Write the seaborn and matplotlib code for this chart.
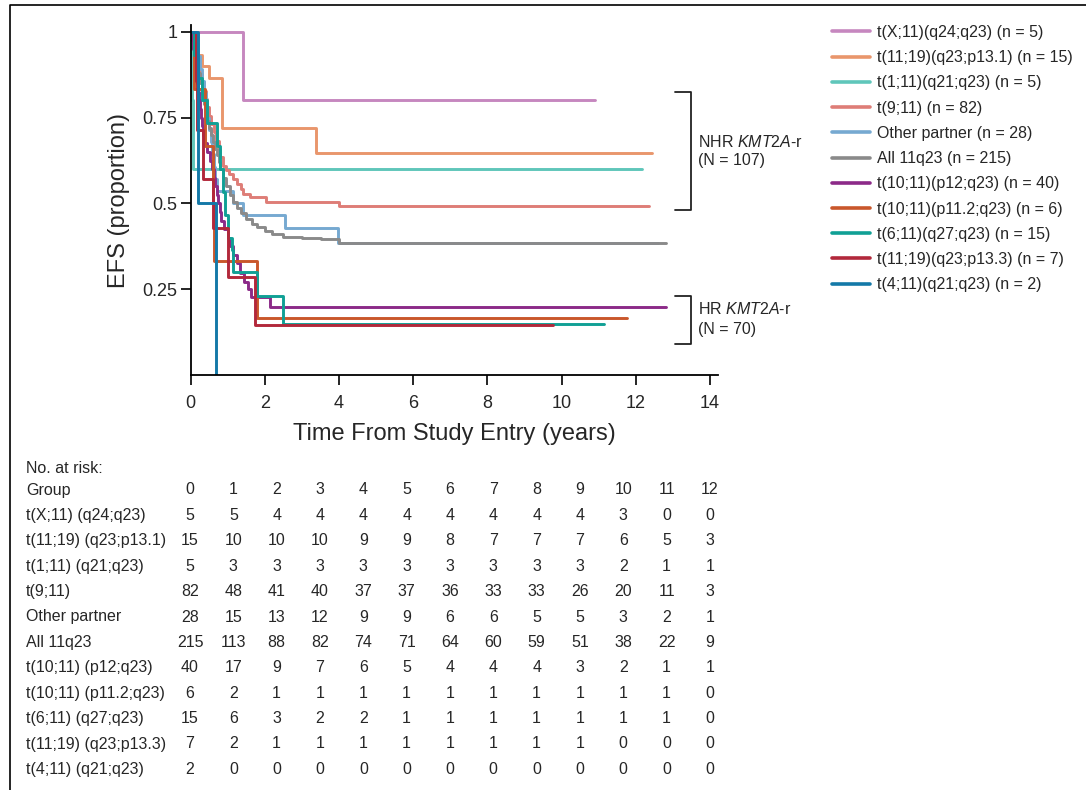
import numpy as np
import pandas as pd
import matplotlib
matplotlib.use('Agg')
import matplotlib.pyplot as plt
from matplotlib.lines import Line2D
import seaborn as sns

# ---- data ----
groups = ["t(X;11)(q24;q23)", "t(11;19)(q23;p13.1)", "t(1;11)(q21;q23)", "t(9;11)",
          "Other partner", "All 11q23", "t(10;11)(p12;q23)", "t(10;11)(p11.2;q23)",
          "t(6;11)(q27;q23)", "t(11;19)(q23;p13.3)", "t(4;11)(q21;q23)"]
group_n = [5, 15, 5, 82, 28, 215, 40, 6, 15, 7, 2]
colors = ["#c687bf", "#e9966c", "#5fc6ba", "#de7d77", "#76a9d1", "#8a8a8a",
          "#8c2a88", "#c9572b", "#10a095", "#b2283b", "#1479a8"]

# step times (years) and survival after each step, plus last follow-up
txq_t = [1.42]
txq_s = [0.80]
txq_end = 10.9
t1119a_t = [0.20, 0.30, 0.50, 0.85, 3.39]
t1119a_s = [0.933, 0.90, 0.867, 0.72, 0.648]
t1119a_end = 12.43
t111_t = [0.04, 0.07]
t111_s = [0.80, 0.60]
t111_end = 12.17
t911_t = [0.05, 0.10, 0.15, 0.20, 0.25, 0.30, 0.35, 0.40, 0.45, 0.50, 0.55, 0.62,
          0.68, 0.75, 0.80, 0.87, 0.95, 1.02, 1.14, 1.25, 1.35, 1.42, 1.60, 2.04, 4.00]
t911_s = [0.976, 0.951, 0.927, 0.902, 0.878, 0.853, 0.829, 0.805, 0.780, 0.756, 0.732, 0.707,
          0.683, 0.659, 0.634, 0.610, 0.598, 0.585, 0.571, 0.557, 0.543, 0.528, 0.518, 0.505, 0.493]
t911_end = 12.36
other_t = [0.08, 0.20, 0.25, 0.30, 0.35, 0.40, 0.45, 0.50, 0.55, 0.58, 0.62, 0.66, 0.72,
           1.15, 1.42, 2.55, 3.97]
other_s = [0.964, 0.929, 0.893, 0.857, 0.821, 0.786, 0.750, 0.714, 0.679, 0.643, 0.607, 0.571, 0.536,
           0.500, 0.466, 0.427, 0.384]
other_end = 12.6
all_t = [0.02, 0.05, 0.10, 0.15, 0.20, 0.25, 0.30, 0.35, 0.40, 0.45, 0.50, 0.55, 0.60, 0.65,
         0.70, 0.75, 0.80, 0.87, 0.95, 1.05, 1.15, 1.25, 1.35, 1.50, 1.65, 1.80, 2.00, 2.20,
         2.50, 3.00, 3.50, 4.00]
all_s = [0.99, 0.97, 0.94, 0.91, 0.88, 0.85, 0.82, 0.79, 0.765, 0.74, 0.72, 0.70, 0.68, 0.66,
         0.64, 0.62, 0.60, 0.575, 0.55, 0.525, 0.505, 0.488, 0.472, 0.455, 0.44, 0.43, 0.42, 0.41,
         0.403, 0.398, 0.395, 0.384]
all_end = 12.8
t1011a_t = [0.03, 0.06, 0.09, 0.12, 0.15, 0.18, 0.20, 0.22, 0.25, 0.27, 0.30, 0.33, 0.36,
            0.45, 0.52, 0.58, 0.62, 0.66, 0.70, 0.74, 0.78, 0.82, 0.90, 1.00, 1.06, 1.15,
            1.25, 1.32, 1.45, 1.55, 1.63, 2.13]
t1011a_s = [0.975, 0.95, 0.925, 0.90, 0.875, 0.85, 0.825, 0.80, 0.775, 0.75, 0.725, 0.70, 0.675,
            0.65, 0.625, 0.60, 0.575, 0.55, 0.525, 0.50, 0.475, 0.45, 0.425, 0.40, 0.375, 0.35,
            0.325, 0.297, 0.27, 0.25, 0.228, 0.197]
t1011a_end = 12.8
t1011b_t = [0.10, 0.38, 0.60, 0.62, 1.78]
t1011b_s = [0.833, 0.667, 0.50, 0.333, 0.167]
t1011b_end = 11.76
t611_t = [0.10, 0.20, 0.30, 0.45, 0.70, 0.80, 0.88, 0.93, 1.00, 1.10, 1.15, 1.78, 2.49]
t611_s = [0.933, 0.867, 0.80, 0.733, 0.667, 0.60, 0.533, 0.467, 0.40, 0.364, 0.30, 0.229, 0.149]
t611_end = 11.15
t1119b_t = [0.14, 0.16, 0.34, 0.60, 1.01, 1.72]
t1119b_s = [0.857, 0.714, 0.571, 0.429, 0.287, 0.146]
t1119b_end = 9.77
t411_t = [0.21, 0.67]
t411_s = [0.50, 0.0]
t411_end = 0.67

curve_t = [txq_t, t1119a_t, t111_t, t911_t, other_t, all_t, t1011a_t, t1011b_t, t611_t, t1119b_t, t411_t]
curve_s = [txq_s, t1119a_s, t111_s, t911_s, other_s, all_s, t1011a_s, t1011b_s, t611_s, t1119b_s, t411_s]
curve_end = [txq_end, t1119a_end, t111_end, t911_end, other_end, all_end, t1011a_end, t1011b_end,
             t611_end, t1119b_end, t411_end]

# numbers at risk
risk_years = list(range(13))
risk_labels = ["t(X;11) (q24;q23)", "t(11;19) (q23;p13.1)", "t(1;11) (q21;q23)", "t(9;11)",
               "Other partner", "All 11q23", "t(10;11) (p12;q23)", "t(10;11) (p11.2;q23)",
               "t(6;11) (q27;q23)", "t(11;19) (q23;p13.3)", "t(4;11) (q21;q23)"]
risk_xq = [5, 5, 4, 4, 4, 4, 4, 4, 4, 4, 3, 0, 0]
risk_1119a = [15, 10, 10, 10, 9, 9, 8, 7, 7, 7, 6, 5, 3]
risk_111 = [5, 3, 3, 3, 3, 3, 3, 3, 3, 3, 2, 1, 1]
risk_911 = [82, 48, 41, 40, 37, 37, 36, 33, 33, 26, 20, 11, 3]
risk_other = [28, 15, 13, 12, 9, 9, 6, 6, 5, 5, 3, 2, 1]
risk_all = [215, 113, 88, 82, 74, 71, 64, 60, 59, 51, 38, 22, 9]
risk_1011a = [40, 17, 9, 7, 6, 5, 4, 4, 4, 3, 2, 1, 1]
risk_1011b = [6, 2, 1, 1, 1, 1, 1, 1, 1, 1, 1, 1, 0]
risk_611 = [15, 6, 3, 2, 2, 1, 1, 1, 1, 1, 1, 1, 0]
risk_1119b = [7, 2, 1, 1, 1, 1, 1, 1, 1, 1, 0, 0, 0]
risk_411 = [2, 0, 0, 0, 0, 0, 0, 0, 0, 0, 0, 0, 0]
risk_rows = [risk_xq, risk_1119a, risk_111, risk_911, risk_other, risk_all, risk_1011a,
             risk_1011b, risk_611, risk_1119b, risk_411]

# ---- long table for seaborn ----
rows = []
for g, ts, ss, te in zip(groups, curve_t, curve_s, curve_end):
    tt = [0.0] + ts
    sv = [1.0] + ss
    if te > ts[-1]:
        tt.append(te)
        sv.append(ss[-1])
    for a, b in zip(tt, sv):
        rows.append({"group": g, "t": a, "S": b})
df = pd.DataFrame(rows)

sns.set_style("white")
plt.rcParams['font.family'] = ['Liberation Sans', 'DejaVu Sans']
plt.rcParams['mathtext.fontset'] = 'custom'
plt.rcParams['mathtext.rm'] = 'Liberation Sans'
plt.rcParams['mathtext.it'] = 'Liberation Sans:italic'

W, H = 1086, 790
fig = plt.figure(figsize=(W / 100, H / 100), dpi=100)
ax = fig.add_axes([190.7 / W, 1 - 375 / H, (717.5 - 190.7) / W, 350 / H])

sns.lineplot(data=df, x="t", y="S", hue="group", hue_order=groups, palette=colors,
             drawstyle="steps-post", estimator=None, sort=False, lw=2.1,
             legend=False, ax=ax)

ax.set_xlim(0, 14.2)
ax.set_ylim(0, 1.02)
ax.set_xticks(range(0, 15, 2))
ax.set_xticklabels([str(v) for v in range(0, 15, 2)], fontsize=13)
ax.set_yticks([0.25, 0.5, 0.75, 1.0])
ax.set_yticklabels(["0.25", "0.5", "0.75", "1"], fontsize=13)
ax.tick_params(direction="out", length=7, width=1.2, color="black", bottom=True, left=True)
ax.tick_params(axis="x", pad=7.5)
ax.tick_params(axis="y", pad=2.5)
for side in ["top", "right"]:
    ax.spines[side].set_visible(False)
for side in ["left", "bottom"]:
    ax.spines[side].set_color("black")
    ax.spines[side].set_linewidth(1.3)
ax.set_xlabel("Time From Study Entry (years)", fontsize=17, labelpad=8)
ax.set_ylabel("EFS (proportion)", fontsize=17, labelpad=9)

# risk-group brackets
ax.plot([13.06, 13.48, 13.48, 13.06], [0.824, 0.824, 0.481, 0.481], color="#222222", lw=1.3, clip_on=False)
ax.plot([13.06, 13.48, 13.48, 13.06], [0.230, 0.230, 0.090, 0.090], color="#222222", lw=1.3, clip_on=False)
ax.text(13.68, 0.680, r"NHR $\mathit{KMT2A}$-r", fontsize=11.5, va="center", clip_on=False)
ax.text(13.68, 0.624, "(N = 107)", fontsize=11.5, va="center", clip_on=False)
ax.text(13.68, 0.192, r"HR $\mathit{KMT2A}$-r", fontsize=11.5, va="center", clip_on=False)
ax.text(13.68, 0.134, "(N = 70)", fontsize=11.5, va="center", clip_on=False)

# legend
handles = [Line2D([], [], color=c, lw=2.6) for c in colors]
labels = [f"{g} (n = {n})" for g, n in zip(groups, group_n)]
fig.legend(handles, labels, loc="upper left", bbox_to_anchor=(832 / W, 1 - 25 / H),
           frameon=False, fontsize=11.5, handlelength=2.38, handletextpad=0.44,
           labelspacing=0.64, borderpad=0, borderaxespad=0)

# numbers at risk table
fs_tab = 11.5
row_y = 490
row_dy = 25.4
col_x0 = 190
col_dx = 43.33
fig.text(26 / W, 1 - 468 / H, "No. at risk:", fontsize=fs_tab, va="center", ha="left")
fig.text(26 / W, 1 - row_y / H, "Group", fontsize=fs_tab, va="center", ha="left")
for k, yr in enumerate(risk_years):
    fig.text((col_x0 + k * col_dx) / W, 1 - row_y / H, str(yr), fontsize=fs_tab, va="center", ha="center")
for i, (lab, vals) in enumerate(zip(risk_labels, risk_rows)):
    y = 1 - (row_y + (i + 1) * row_dy) / H
    fig.text(26 / W, y, lab, fontsize=fs_tab, va="center", ha="left")
    for k, v in enumerate(vals):
        fig.text((col_x0 + k * col_dx) / W, y, str(v), fontsize=fs_tab, va="center", ha="center")

# partial frame (top and left edges)
fig.add_artist(Line2D([10 / W, 10 / W, 1.0], [0.0, 1 - 5 / H, 1 - 5 / H],
                      transform=fig.transFigure, color="black", lw=1.2))

fig.savefig("out.png", dpi=100)
